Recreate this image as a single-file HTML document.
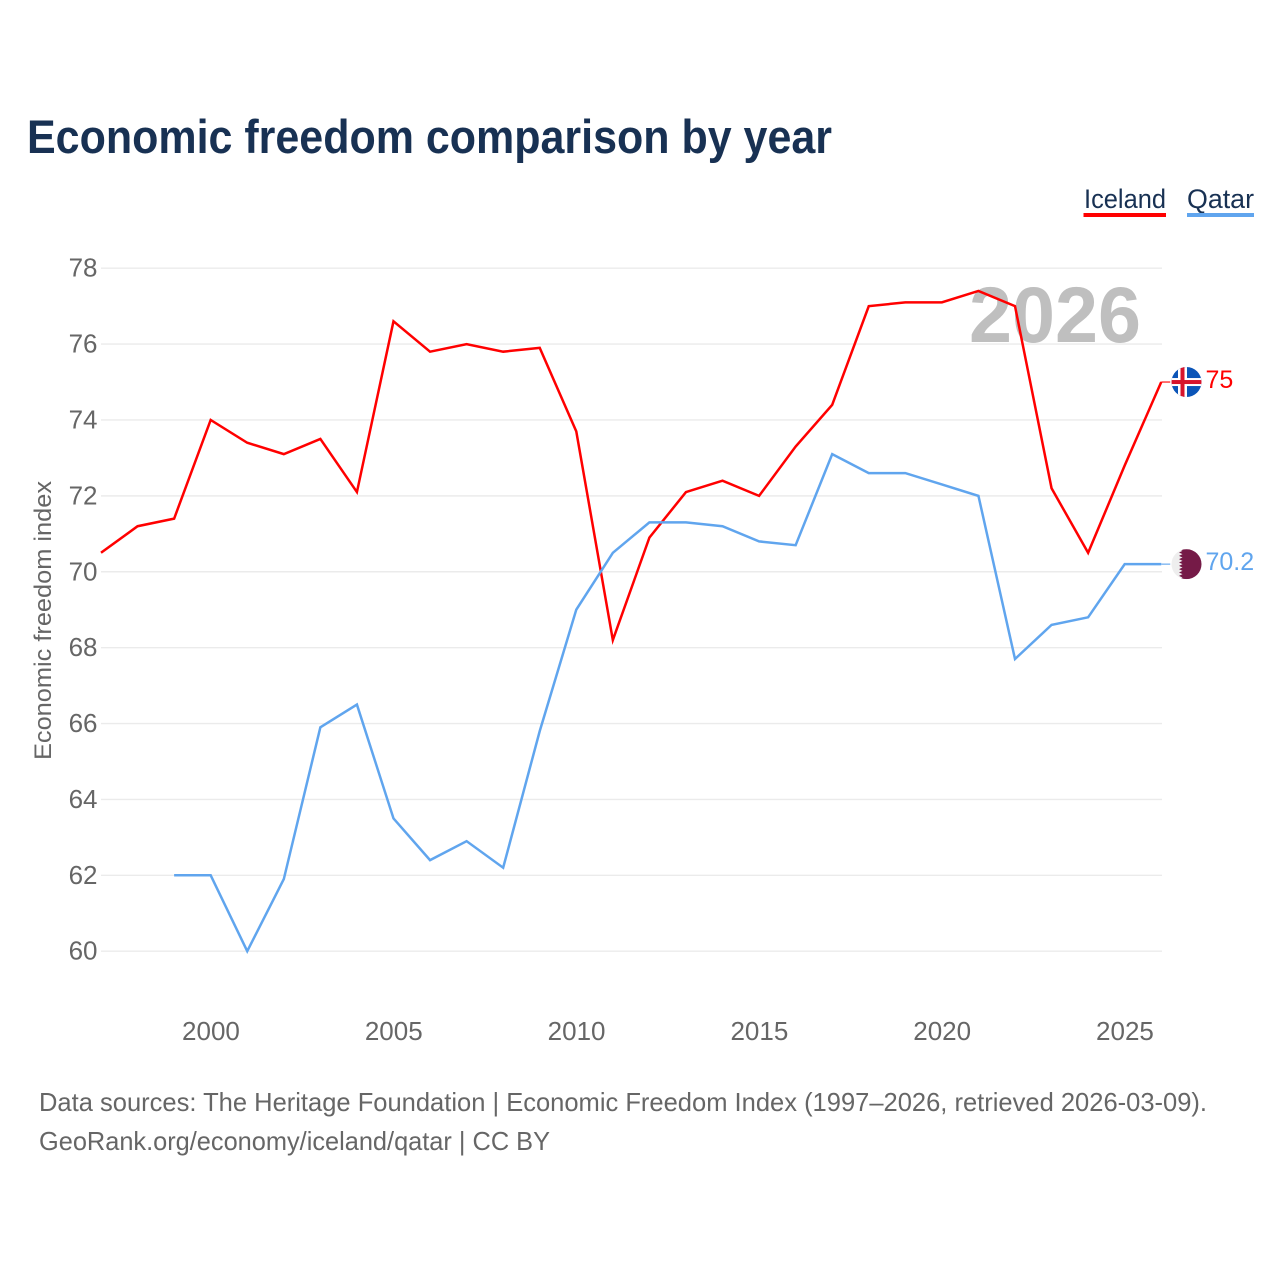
<!DOCTYPE html>
<html>
<head>
<meta charset="utf-8">
<title>Economic freedom comparison by year</title>
<style>
html,body{margin:0;padding:0;background:#fff}
svg{display:block;font-family:"Liberation Sans",sans-serif}
</style>
</head>
<body>
<svg id="chart" width="1280" height="1280" viewBox="0 0 1280 1280" xmlns="http://www.w3.org/2000/svg">
  <defs>
    <clipPath id="flag-clip-is"><circle cx="0" cy="0" r="15"/></clipPath>
    <clipPath id="flag-clip-qa"><circle cx="0" cy="0" r="15"/></clipPath>
  </defs>
  <rect x="0" y="0" width="1280" height="1280" fill="#fff"/>
  <text x="27" y="153" font-size="47" font-weight="700" fill="#183153" textLength="805" lengthAdjust="spacingAndGlyphs">Economic freedom comparison by year</text>

  <g>
    <text x="1084" y="208" font-size="27" fill="#183153" textLength="82" lengthAdjust="spacingAndGlyphs">Iceland</text>
    <rect x="1083.5" y="213" width="82.5" height="4" fill="#ff0000"/>
  </g>
  <g>
    <text x="1187" y="208" font-size="27" fill="#183153" textLength="67" lengthAdjust="spacingAndGlyphs">Qatar</text>
    <rect x="1187" y="213" width="67" height="4" fill="#60a5ee"/>
  </g>

  <g id="grid"></g>
  <text x="1141" y="342" text-anchor="end" font-size="79" font-weight="700" fill="#bfbfbf" textLength="172" lengthAdjust="spacingAndGlyphs">2026</text>
  <g id="y-ticks"></g>
  <g id="x-ticks"></g>
  <text transform="translate(51,620.5) rotate(-90)" text-anchor="middle" font-size="24" fill="#666" textLength="279" lengthAdjust="spacingAndGlyphs">Economic freedom index</text>
  <g id="series"></g>
  <g id="ends"></g>

  <text x="39" y="1111" font-size="26" fill="#666" textLength="1168" lengthAdjust="spacingAndGlyphs">Data sources: The Heritage Foundation | Economic Freedom Index (1997–2026, retrieved 2026-03-09).</text>
  <text x="39" y="1150" font-size="26" fill="#666" textLength="511" lengthAdjust="spacingAndGlyphs">GeoRank.org/economy/iceland/qatar | CC BY</text>
</svg>
<script>
const years = [1997,1998,1999,2000,2001,2002,2003,2004,2005,2006,2007,2008,2009,2010,2011,2012,2013,2014,2015,2016,2017,2018,2019,2020,2021,2022,2023,2024,2025,2026];
const icelandValues = [70.5,71.2,71.4,74.0,73.4,73.1,73.5,72.1,76.6,75.8,76.0,75.8,75.9,73.7,68.2,70.9,72.1,72.4,72.0,73.3,74.4,77.0,77.1,77.1,77.4,77.0,72.2,70.5,72.8,75.0];
const qatarValues = [null,null,62.0,62.0,60.0,61.9,65.9,66.5,63.5,62.4,62.9,62.2,65.8,69.0,70.5,71.3,71.3,71.2,70.8,70.7,73.1,72.6,72.6,72.3,72.0,67.7,68.6,68.8,70.2,70.2];
const yTickValues = [60,62,64,66,68,70,72,74,76,78];
const xTickValues = [2000,2005,2010,2015,2020,2025];

const NS = 'http://www.w3.org/2000/svg';
function xScale(year){ return 101 + (year - 1997) * 36.56; }
function yScale(value){ return 951.2 - (value - 60) * 37.944; }
function make(tag, attrs, parent){
  const el = document.createElementNS(NS, tag);
  for (const k in attrs) el.setAttribute(k, attrs[k]);
  parent.appendChild(el);
  return el;
}
const grid = document.getElementById('grid');
const yTicks = document.getElementById('y-ticks');
const xTicks = document.getElementById('x-ticks');
const series = document.getElementById('series');
const ends = document.getElementById('ends');

yTickValues.forEach(function(v){
  const line = make('line', {x1:101, x2:1162, y1:yScale(v), y2:yScale(v), stroke:'#ebebeb', 'stroke-width':1.4}, grid);
  
  
  const t = make('text', {x:97.5, y:yScale(v) + 8.5, 'text-anchor':'end', 'font-size':26, fill:'#666'}, yTicks);
  
  
  t.textContent = v;
});
xTickValues.forEach(function(v){
  const t = make('text', {x:xScale(v) + 0.3, y:1040, 'text-anchor':'middle', 'font-size':26, fill:'#666'}, xTicks);
  
  
  t.textContent = v;
});
function drawLine(values, color, name){
  let d = '';
  values.forEach(function(v, i){
    if (v === null) return;
    d += (d ? 'L' : 'M') + xScale(years[i]).toFixed(2) + ' ' + yScale(v).toFixed(2);
  });
  const p = make('path', {d:d, fill:'none', stroke:color, 'stroke-width':2.5, 'stroke-linejoin':'miter'}, series);
  
  
}
drawLine(icelandValues, '#ff0000', 'line-iceland');
drawLine(qatarValues, '#60a5ee', 'line-qatar');

function lastOf(values){ return values[values.length - 1]; }
function endGroup(value, color, name){
  const y = yScale(value);
  const x = xScale(years[years.length - 1]);
  const c = make('line', {x1:x, x2:x + 9, y1:y, y2:y, stroke:color, 'stroke-width':1.5, opacity:0.75}, ends);
  
  
  const t = make('text', {x:1205.5, y:y + 6, 'font-size':25, fill:color}, ends);
  
  
  t.textContent = value;
  const g = make('g', {transform:'translate(1186.5,' + y + ')'}, ends);
  
  
  return g;
}
const isFlag = endGroup(lastOf(icelandValues), '#ff0000', 'iceland');
const isInner = make('g', {'clip-path':'url(#flag-clip-is)'}, isFlag);
make('rect', {x:-15, y:-15, width:30, height:30, fill:'#0b55b8'}, isInner);
make('rect', {x:-8.5, y:-15, width:9, height:30, fill:'#fff'}, isInner);
make('rect', {x:-15, y:-4, width:30, height:8, fill:'#fff'}, isInner);
make('rect', {x:-6, y:-15, width:4, height:30, fill:'#d7142c'}, isInner);
make('rect', {x:-15, y:-2, width:30, height:4, fill:'#d7142c'}, isInner);

const qaFlag = endGroup(lastOf(qatarValues), '#60a5ee', 'qatar');
const qaInner = make('g', {'clip-path':'url(#flag-clip-qa)'}, qaFlag);
make('rect', {x:-15, y:-15, width:30, height:30, fill:'#eeeeee'}, qaInner);
make('path', {d:'M15 -15H-7.5L-4 -13.3L-7.5 -11.7L-4 -10L-7.5 -8.3L-4 -6.7L-7.5 -5L-4 -3.3L-7.5 -1.7L-4 0L-7.5 1.7L-4 3.3L-7.5 5L-4 6.7L-7.5 8.3L-4 10L-7.5 11.7L-4 13.3L-7.5 15H15Z', fill:'#751a47'}, qaInner);
</script>
</body>
</html>
